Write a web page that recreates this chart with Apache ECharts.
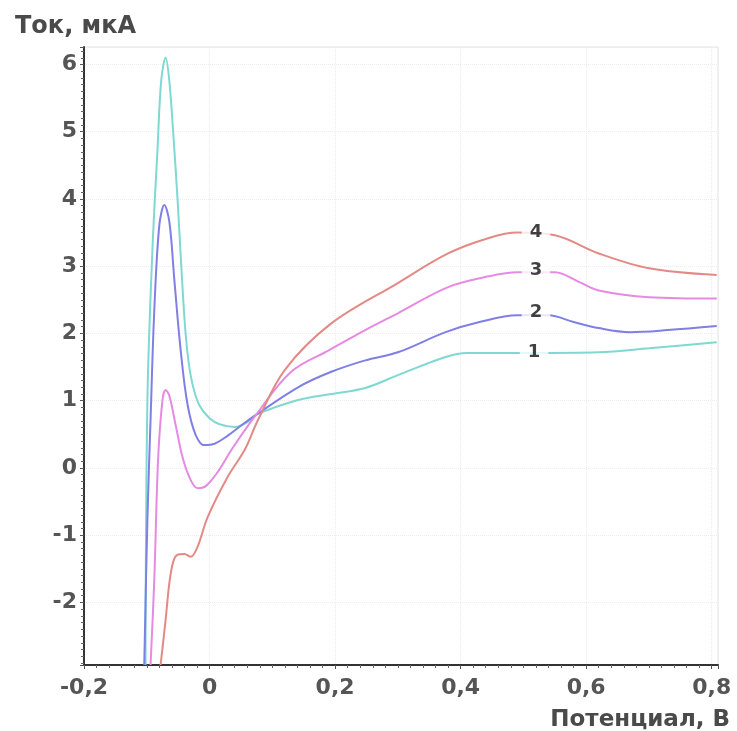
<!DOCTYPE html>
<html>
<head>
<meta charset="utf-8">
<script src="https://cdn.jsdelivr.net/npm/echarts@6/dist/echarts.min.js"></script>
<style>html,body{margin:0;padding:0;background:#fff}#c{width:737px;height:731px}</style>
</head>
<body>
<div id="c"></div>
<script>
// Curve 1 (cyan)
var x1 = [-0.102,-0.099,-0.091,-0.083,-0.077,-0.070,-0.064,-0.058,-0.051,-0.045,-0.039,-0.033,-0.026,-0.016,0.000,0.016,0.040,0.060,0.074,0.141,0.194,0.248,0.300,0.376,0.410,0.470,0.510,0.620,0.700,0.808];
var y1 = [-2.93,1.00,3.24,4.72,5.76,6.10,5.75,5.00,4.00,3.00,2.10,1.55,1.20,0.93,0.74,0.65,0.61,0.68,0.79,1.01,1.10,1.19,1.38,1.65,1.71,1.71,1.71,1.72,1.78,1.87];
// Curve 2 (blue)
var x2 = [-0.104,-0.099,-0.094,-0.088,-0.080,-0.072,-0.064,-0.056,-0.046,-0.035,-0.022,-0.008,0.008,0.029,0.053,0.074,0.141,0.194,0.248,0.300,0.376,0.430,0.490,0.540,0.580,0.620,0.670,0.730,0.808];
var y2 = [-2.93,-0.77,0.71,2.35,3.61,3.91,3.66,2.79,1.75,0.94,0.49,0.34,0.36,0.48,0.65,0.79,1.20,1.43,1.60,1.72,2.02,2.17,2.27,2.27,2.17,2.08,2.02,2.05,2.11];
// Curve 3 (pink)
var x3 = [-0.094,-0.088,-0.082,-0.075,-0.070,-0.064,-0.054,-0.043,-0.030,-0.019,-0.006,0.013,0.037,0.074,0.130,0.190,0.248,0.300,0.380,0.445,0.490,0.550,0.590,0.620,0.700,0.808];
var y3 = [-2.93,-1.66,0.12,1.01,1.16,1.07,0.64,0.16,-0.18,-0.30,-0.27,-0.06,0.30,0.79,1.43,1.75,2.05,2.30,2.69,2.85,2.91,2.91,2.76,2.64,2.54,2.52];
// Curve 4 (red)
var x4 = [-0.078,-0.070,-0.064,-0.058,-0.051,-0.040,-0.030,-0.019,-0.003,0.029,0.056,0.077,0.120,0.194,0.300,0.380,0.445,0.490,0.550,0.620,0.700,0.808];
var y4 = [-2.93,-2.26,-1.71,-1.40,-1.29,-1.28,-1.32,-1.17,-0.73,-0.13,0.27,0.71,1.46,2.15,2.75,3.19,3.42,3.50,3.46,3.19,2.97,2.87];
// Curve labels
var labelText = ['1','2','3','4'];
var labelX = [0.517,0.52,0.52,0.52];
var labelY = [1.72,2.32,2.94,3.51];
var colors = ['#7fd9d2','#7f7fe6','#e68ae2','#e38a86'];

function pairs(xs, ys){ return xs.map(function(v,i){return [v, ys[i]];}); }
var curves = [[x1,y1],[x2,y2],[x3,y3],[x4,y4]];
var series = curves.map(function(c, i){
  return {type:'line', data:pairs(c[0], c[1]), smooth:0.35, showSymbol:false, symbol:'none',
    lineStyle:{color:colors[i], width:2}, z:2, silent:true};
});
series.push({type:'scatter', symbolSize:0, z:5,
  data: labelText.map(function(t,i){return {value:[labelX[i],labelY[i]], name:t};}),
  label:{show:true, position:'inside', formatter:function(p){return p.name;},
    color:'#111', fontSize:18, fontWeight:'bold', fontFamily:'DejaVu Sans',
    backgroundColor:'#fff', padding:[1,8,1,8]}
});

var chart = echarts.init(document.getElementById('c'), null, {renderer:'canvas'});
chart.setOption({
  animation:false,
  backgroundColor:'#fff',
  title:[
    {text:'Ток, мкА', left:10, top:10, textStyle:{fontFamily:'DejaVu Sans', fontSize:24, fontWeight:'bold', color:'#4a4a4a'}},
    {text:'Потенциал, В', right:2, top:704, textStyle:{fontFamily:'DejaVu Sans', fontSize:23, fontWeight:'bold', color:'#4a4a4a'}}
  ],
  grid:{left:84, right:19, top:47, bottom:66, show:true, borderColor:'#e4e4e4', borderWidth:1},
  xAxis:{type:'value', min:-0.2, max:0.81, interval:0.2,
    axisLine:{show:true, onZero:false, lineStyle:{color:'#333', width:2}},
    axisTick:{show:true, length:4, lineStyle:{color:'#555'}},
    minorTick:{show:true, splitNumber:10, length:3, lineStyle:{color:'#666'}},
    axisLabel:{margin:12, fontFamily:'DejaVu Sans', fontSize:22, fontWeight:'bold', color:'#555',
      formatter:function(v){ if (Math.abs(v*5-Math.round(v*5))>1e-6) return ''; var r=Math.round(v*10)/10; return String(r).replace('.',','); }},
    splitLine:{show:true, lineStyle:{color:'#ececec', type:'dotted'}},
    minorSplitLine:{show:false}
  },
  yAxis:{type:'value', min:-2.93, max:6.26, splitNumber:9,
    axisLine:{show:true, onZero:false, lineStyle:{color:'#333', width:2}},
    axisTick:{show:true, length:4, lineStyle:{color:'#555'}},
    minorTick:{show:true, splitNumber:10, length:3, lineStyle:{color:'#666'}},
    axisLabel:{margin:7, fontFamily:'DejaVu Sans', fontSize:22, fontWeight:'bold', color:'#555',
      formatter:function(v){ if (Math.abs(v-Math.round(v))>1e-6) return ''; return String(Math.round(v)); }},
    splitLine:{show:true, lineStyle:{color:'#ececec', type:'dotted'}}
  },
  series:series
});
</script>
</body>
</html>
